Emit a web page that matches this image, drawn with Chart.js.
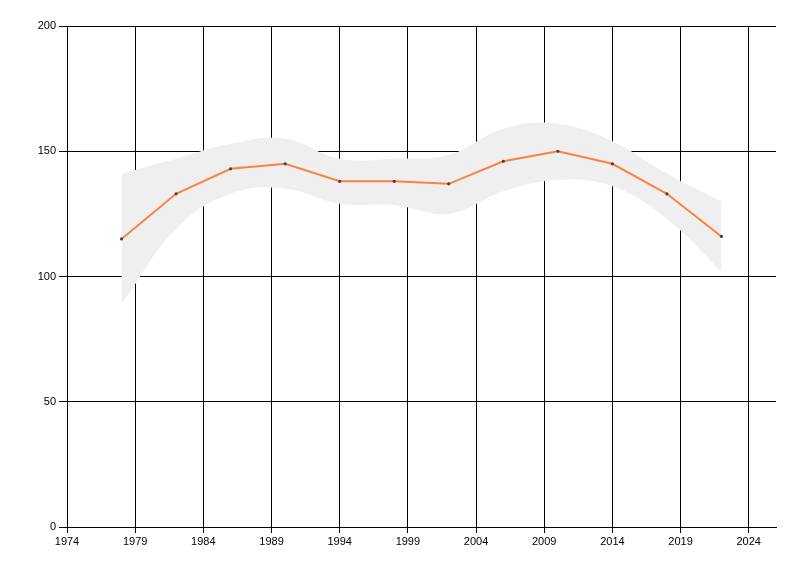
<!DOCTYPE html>
<html>
<head>
<meta charset="utf-8">
<script src="https://cdn.jsdelivr.net/npm/chart.js@4/dist/chart.umd.min.js"></script>
<style>
    html, body { margin: 0; padding: 0; background: #fff; }
    #wrap { width: 800px; height: 576px; }
</style>
</head>
<body>
<div id="wrap"><canvas id="chart"></canvas></div>
<script>
// data
const years  = [1978, 1982, 1986, 1990, 1994, 1998, 2002, 2006, 2010, 2014, 2018, 2022];
const values = [115, 133, 143, 145, 138, 138, 137, 146, 150, 145, 133, 116];
const upper  = [141, 147, 153, 155, 147, 147, 148.5, 159, 161, 154, 141, 130];
const lower  = [89, 119, 133, 135, 129, 128.5, 125, 134, 138.5, 136, 123, 102];

const xTicks = [1974, 1979, 1984, 1989, 1994, 1999, 2004, 2009, 2014, 2019, 2024];
const yTicks = [0, 50, 100, 150, 200];

const FONT = { family: 'Liberation Sans, Arial, sans-serif', size: 11 };

function pts(ys) {
    return years.map((x, i) => ({ x: x, y: ys[i] }));
}

const ctx = document.getElementById('chart').getContext('2d');

new Chart(ctx, {
    type: 'line',
    data: {
        datasets: [
            {
                // main series
                data: pts(values),
                borderColor: 'rgb(255,128,64)',
                borderWidth: 2,
                tension: 0,
                pointRadius: 1.6,
                pointBackgroundColor: '#444',
                pointBorderWidth: 0,
                fill: false,
                order: 0
            },
            {
                // band upper edge
                data: pts(upper),
                borderWidth: 0,
                borderColor: 'rgba(0,0,0,0)',
                backgroundColor: '#efefef',
                pointRadius: 0,
                tension: 0.4,
                fill: '+1',
                order: 1
            },
            {
                // band lower edge
                data: pts(lower),
                borderWidth: 0,
                borderColor: 'rgba(0,0,0,0)',
                pointRadius: 0,
                tension: 0.4,
                fill: false,
                order: 2
            }
        ]
    },
    options: {
        responsive: true,
        maintainAspectRatio: false,
        animation: false,
        layout: { padding: { top: 26, right: 24, bottom: 0, left: 0 } },
        plugins: {
            legend: { display: false },
            tooltip: { enabled: false }
        },
        scales: {
            x: {
                type: 'linear',
                min: 1974,
                max: 2026,
                afterBuildTicks: scale => { scale.ticks = xTicks.map(v => ({ value: v })); },
                afterFit: scale => { scale.height = 49; },
                ticks: {
                    color: '#000',
                    font: FONT,
                    padding: 2,
                    maxRotation: 0,
                    autoSkip: false,
                    callback: v => String(v)
                },
                grid: { color: '#000', lineWidth: 1, tickLength: 6, drawTicks: true },
                border: { display: true, color: '#000', width: 1 }
            },
            y: {
                min: 0,
                max: 200,
                afterBuildTicks: scale => { scale.ticks = yTicks.map(v => ({ value: v })); },
                afterFit: scale => { scale.width = 67; },
                ticks: {
                    color: '#000',
                    font: FONT,
                    padding: 3
                },
                grid: { color: '#000', lineWidth: 1, tickLength: 8, drawTicks: true },
                border: { display: true, color: '#000', width: 1 }
            }
        }
    }
});
</script>
</body>
</html>
